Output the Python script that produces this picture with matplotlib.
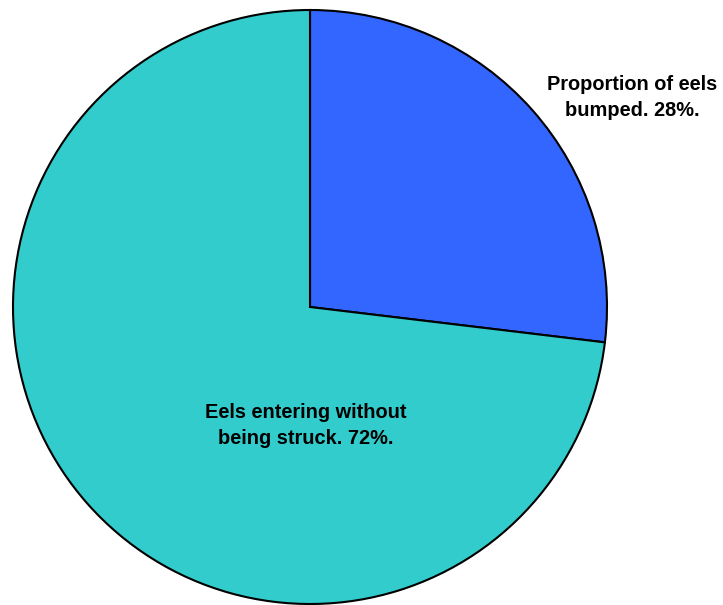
import matplotlib
matplotlib.use("Agg")
import matplotlib.pyplot as plt

categories = ["Proportion of eels\nbumped. 28%.", "Eels entering without\nbeing struck. 72%."]
values = [26.9, 73.1]
colors = ["#3366FF", "#33CCCC"]

W, H = 723, 605
fig = plt.figure(figsize=(W / 100, H / 100), dpi=100)
ax = fig.add_axes([0, 0, 1, 1])

cx, cy, r = 310, H - 307, 297
ax.pie(values, colors=colors, startangle=90, counterclock=False,
       center=(cx, cy), radius=r, frame=True,
       wedgeprops=dict(edgecolor="black", linewidth=1.5))
ax.set_xlim(0, W)
ax.set_ylim(0, H)
ax.set_aspect("equal")
ax.axis("off")

font = dict(family=["Liberation Sans", "DejaVu Sans"], fontweight="bold", fontsize=14.4,
            ha="center", va="center", linespacing=1.45)
ax.text(632, H - 97.5, categories[0], **font)
ax.text(306, H - 425.5, categories[1], **font)

fig.savefig("out.png", dpi=100)
